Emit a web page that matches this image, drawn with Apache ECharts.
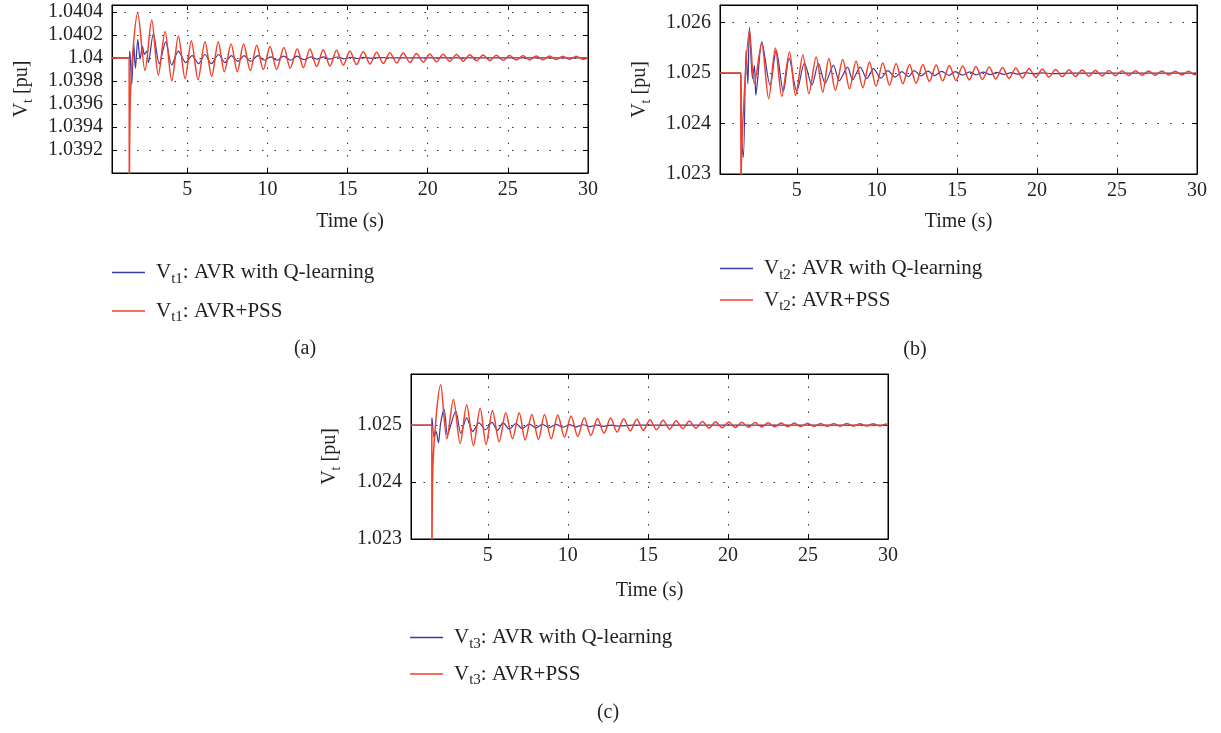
<!DOCTYPE html>
<html><head><meta charset="utf-8">
<script src="https://cdn.jsdelivr.net/npm/echarts@6/dist/echarts.min.js"></script>
<style>html,body{margin:0;padding:0;background:#fff}#c{width:1221px;height:733px}</style>
</head><body><div id="c"></div>
<script>
// ---------- tick labels ----------
const xTicks = [5, 10, 15, 20, 25, 30];
const yTicksA = [1.0392, 1.0394, 1.0396, 1.0398, 1.04, 1.0402, 1.0404];
const yTicksB = [1.023, 1.024, 1.025, 1.026];
const yTicksC = [1.023, 1.024, 1.025];

// ---------- panel (a): Vt1 ----------
const tA_q = [0.3,1.37,1.41,1.53,1.66,1.76,1.91,2.05,2.20,2.32,2.47,2.57,2.88,3.25,3.65,4.03,4.44,4.90,5.30,5.70,6.10,6.50,6.95,7.35,7.75,8.15,8.55,8.95,9.40,9.80,10.2,10.6,11.0,11.45,11.85,12.3,12.7,13.1,13.5,13.9,14.35,14.8,15.2,15.6,16.0,16.5,17.0,18.0,30];
const vA_q = [1.04,1.04,1.04006,1.03977,1.04012,1.03991,1.04016,1.03999,1.0401,1.04003,1.04006,1.03996,1.04021,1.03995,1.04014,1.03994,1.04006,1.03996,1.04002,1.03995,1.04003,1.03995,1.04003,1.03996,1.04002,1.03997,1.04002,1.03997,1.04002,1.03998,1.04001,1.03998,1.040015,1.03998,1.040015,1.039985,1.04001,1.03999,1.04001,1.03999,1.040008,1.039993,1.040006,1.039995,1.040004,1.039997,1.040003,1.04,1.04];
const tA_pss = [0.3,1.37,1.38,1.45,1.91,2.36,2.78,3.19,3.61,4.03,4.44,4.86,5.25,5.67,6.10,6.52,6.93,7.31,7.73,8.12,8.51,8.93,9.33,9.74,10.16,10.57,11.03,11.42,11.86,12.24,12.65,13.07,13.48,13.90,14.31,14.73,15.14,15.56,15.98,16.40,16.81,17.23,17.64,18.06,18.47,18.89,19.30,19.72,20.13,20.55,20.96,21.38,21.79,22.21,22.62,23.04,23.45,23.87,24.28,24.70,25.11,25.53,25.94,26.36,26.77,27.19,27.60,28.02,28.43,28.85,29.26,29.68,30];
const vA_pss = [1.04,1.04,1.0386,1.03968,1.04039,1.03989,1.04033,1.03985,1.04023,1.0398,1.04019,1.03982,1.04015,1.03981,1.04014,1.03984,1.04014,1.03988,1.04012,1.03988,1.04012,1.03989,1.04011,1.0399,1.0401,1.0399,1.04009,1.03991,1.04008,1.039915,1.040078,1.039925,1.040072,1.03993,1.040066,1.039937,1.04006,1.039942,1.040056,1.039947,1.04005,1.039952,1.040046,1.039956,1.040042,1.03996,1.040038,1.039964,1.040035,1.039967,1.040032,1.03997,1.04003,1.039972,1.040027,1.039975,1.040025,1.039977,1.040023,1.039979,1.040021,1.039981,1.040019,1.039983,1.040017,1.039984,1.040016,1.039986,1.040015,1.039987,1.040014,1.039988,1.04];

// ---------- panel (b): Vt2 ----------
const tB_q = [0.2,1.50,1.53,1.66,1.83,1.94,2.04,2.23,2.35,2.44,2.56,2.81,3.33,3.71,4.16,4.52,5.0,5.48,5.94,6.35,6.77,7.29,7.65,8.17,8.48,8.96,9.37,9.79,10.25,10.69,11.14,11.56,11.98,12.33,12.75,13.2,13.6,14.05,14.5,14.9,15.35,15.8,16.2,16.65,17.1,17.5,17.95,18.4,18.8,19.3,19.8,20.3,21.0,22.0,30];
const vB_q = [1.025,1.025,1.0238,1.02333,1.02545,1.02479,1.02591,1.02489,1.02515,1.02456,1.0249,1.02562,1.02476,1.02545,1.02464,1.02529,1.02464,1.0252,1.02476,1.02519,1.0248,1.025155,1.02485,1.02512,1.02487,1.02512,1.02489,1.02509,1.0249,1.02505,1.02492,1.02503,1.02493,1.02505,1.024945,1.02504,1.02495,1.025035,1.024955,1.02503,1.02496,1.025025,1.024965,1.02502,1.02497,1.025015,1.024975,1.02501,1.02498,1.025008,1.024985,1.025005,1.02499,1.025,1.025];
const tB_pss = [0.2,1.50,1.51,1.62,2.04,2.35,2.80,3.24,3.66,4.06,4.54,4.92,5.38,5.75,6.21,6.62,7.00,7.41,7.87,8.29,8.70,9.12,9.54,9.95,10.37,10.79,11.20,11.62,12.04,12.45,12.87,13.28,13.70,14.11,14.53,14.94,15.36,15.77,16.19,16.60,17.02,17.43,17.85,18.26,18.68,19.09,19.51,19.92,20.34,20.75,21.17,21.58,22.00,22.41,22.83,23.24,23.66,24.07,24.49,24.90,25.32,25.73,26.15,26.56,26.98,27.39,27.81,28.22,28.64,29.05,29.47,29.88,30];
const vB_pss = [1.025,1.025,1.0228,1.024,1.02585,1.02479,1.02558,1.02449,1.0255,1.02454,1.02542,1.02456,1.02536,1.02459,1.02532,1.02462,1.02529,1.02466,1.02527,1.02469,1.02524,1.02471,1.02522,1.02474,1.0252,1.02476,1.02519,1.02479,1.02517,1.0248,1.025172,1.024835,1.025162,1.024845,1.02515,1.024855,1.02514,1.024865,1.02513,1.024875,1.02512,1.024885,1.02511,1.024895,1.0251,1.024905,1.02509,1.024915,1.02508,1.024922,1.025072,1.024929,1.025066,1.024935,1.02506,1.02494,1.025056,1.024945,1.025052,1.02495,1.025048,1.024953,1.025045,1.024956,1.025042,1.024959,1.02504,1.024962,1.025037,1.024964,1.025035,1.024966,1.025];

// ---------- panel (c): Vt3 ----------
const tC_q = [0.2,1.50,1.51,1.64,1.77,1.91,2.06,2.27,2.48,2.64,3.0,3.31,3.68,4.06,4.45,4.85,5.25,5.6,5.95,6.35,6.75,7.15,7.6,8.0,8.4,8.85,9.25,9.7,10.1,10.5,10.95,11.4,11.8,12.2,12.7,13.2,14.0,30];
const vC_q = [1.025,1.025,1.02513,1.02479,1.02489,1.02469,1.02505,1.02528,1.02482,1.02496,1.02525,1.02486,1.02513,1.02489,1.02504,1.02492,1.02505,1.02491,1.02504,1.02493,1.02503,1.02494,1.02502,1.02495,1.025015,1.02496,1.025015,1.024965,1.02501,1.02497,1.025008,1.024975,1.025005,1.02498,1.025003,1.024985,1.025,1.025];
const tC_pss = [0.2,1.50,1.51,1.56,2.06,2.44,2.85,3.27,3.68,4.10,4.52,4.89,5.29,5.71,6.12,6.54,6.96,7.33,7.75,8.16,8.54,8.96,9.37,9.79,10.2,10.62,11.02,11.44,11.85,12.26,12.67,13.08,13.49,13.90,14.31,14.72,15.13,15.54,15.95,16.36,16.77,17.18,17.59,18.00,18.41,18.82,19.23,19.64,20.05,20.46,20.87,21.28,21.69,22.10,22.51,22.92,23.33,23.74,24.15,24.56,24.97,25.38,25.79,26.20,26.61,27.02,27.43,27.84,28.25,28.66,29.07,29.48,29.89,30];
const vC_pss = [1.025,1.025,1.0225,1.02421,1.02571,1.02476,1.02545,1.02468,1.02536,1.02464,1.0253,1.02466,1.02526,1.02471,1.02522,1.02476,1.02522,1.02474,1.02519,1.02475,1.02519,1.02476,1.02518,1.02479,1.02516,1.0248,1.02513,1.02482,1.02512,1.02486,1.025125,1.02488,1.025115,1.0249,1.025105,1.02491,1.025095,1.02492,1.025088,1.02493,1.02508,1.024938,1.025072,1.024945,1.025066,1.02495,1.02506,1.024955,1.025056,1.02496,1.025051,1.024964,1.025047,1.024968,1.025043,1.024971,1.02504,1.024974,1.025037,1.024976,1.025034,1.024978,1.025032,1.02498,1.02503,1.024981,1.025028,1.024983,1.025026,1.024984,1.025024,1.024986,1.025022,1.025];

// ---------- legend texts ----------
const legendQ = ': AVR with Q-learning';
const legendP = ': AVR+PSS';
const subs = ['t1', 't2', 't3'];
const captions = ['(a)', '(b)', '(c)'];

// ---------- layout / style ----------
const FONT = 'Liberation Serif';
const TXT = '#231f20';
const BLUE = '#3b3a9e';
const RED = '#f2402a';

const panels = [
  {grid: {left: 112, top: 5, width: 476, height: 168}, xMin: 0.3, yMin: 1.039, yMax: 1.04046, yTicks: yTicksA, dec: 4,
   q: [tA_q, vA_q], p: [tA_pss, vA_pss], yGap: 77, xGap: 39,
   legend: {left: 112, top: 262, itemGap: 14}, cap: [305, 349]},
  {grid: {left: 720, top: 5, width: 477, height: 169}, xMin: 0.2, yMin: 1.023, yMax: 1.02635, yTicks: yTicksB, dec: 3,
   q: [tB_q, vB_q], p: [tB_pss, vB_pss], yGap: 67, xGap: 38,
   legend: {left: 720, top: 258, itemGap: 7}, cap: [915, 350]},
  {grid: {left: 411, top: 374, width: 477, height: 165}, xMin: 0.2, yMin: 1.023, yMax: 1.0259, yTicks: yTicksC, dec: 3,
   q: [tC_q, vC_q], p: [tC_pss, vC_pss], yGap: 68, xGap: 42,
   legend: {left: 410, top: 627, itemGap: 12}, cap: [608, 713]}
];

const rich = {
  n: {fontFamily: FONT, fontSize: 20, color: TXT},
  s: {fontFamily: FONT, fontSize: 14, color: TXT, padding: [13, 0, 0, 0]}
};
const richL = {
  n: {fontFamily: FONT, fontSize: 21, color: TXT},
  s: {fontFamily: FONT, fontSize: 15, color: TXT, padding: [13, 0, 0, 0]}
};
const dotted = {type: [1.5, 11], color: '#333', width: 1};

const option = {animation: false, backgroundColor: '#fff', grid: [], xAxis: [], yAxis: [], series: [], legend: [], graphic: []};
const nameMap = {};

panels.forEach((P, i) => {
  option.grid.push(Object.assign({show: true, borderColor: '#000', borderWidth: 1, containLabel: false}, P.grid));
  const tickStyle = {color: '#000', width: 1};
  option.xAxis.push({
    gridIndex: i, type: 'value', min: P.xMin, max: 30, position: 'bottom',
    axisLine: {show: true, onZero: false, lineStyle: {color: '#000'}},
    axisTick: {show: true, inside: true, length: 5, customValues: xTicks, lineStyle: tickStyle},
    axisLabel: {customValues: xTicks, fontFamily: FONT, fontSize: 20, color: TXT, margin: 7},
    splitLine: {show: true, lineStyle: dotted},
    name: 'Time (s)', nameLocation: 'middle', nameGap: P.xGap,
    nameTextStyle: {fontFamily: FONT, fontSize: 20, color: TXT}
  });
  option.xAxis.push({
    gridIndex: i, type: 'value', min: P.xMin, max: 30, position: 'top',
    axisLine: {show: true, onZero: false, lineStyle: {color: '#000'}},
    axisTick: {show: true, inside: true, length: 5, customValues: xTicks, lineStyle: tickStyle},
    axisLabel: {show: false}, splitLine: {show: false}
  });
  const fmt = v => String(+(+v).toFixed(P.dec));
  option.yAxis.push({
    gridIndex: i, type: 'value', min: P.yMin, max: P.yMax, position: 'left',
    axisLine: {show: true, onZero: false, lineStyle: {color: '#000'}},
    axisTick: {show: true, inside: true, length: 5, customValues: P.yTicks, lineStyle: tickStyle},
    axisLabel: {customValues: P.yTicks, fontFamily: FONT, fontSize: 20, color: TXT, margin: 9, formatter: fmt},
    splitLine: {show: true, lineStyle: dotted},
    name: '{n|V}{s|t}{n| [pu]}', nameLocation: 'middle', nameGap: P.yGap, nameRotate: 90,
    nameTextStyle: {fontFamily: FONT, fontSize: 20, color: TXT, rich: rich}
  });
  option.yAxis.push({
    gridIndex: i, type: 'value', min: P.yMin, max: P.yMax, position: 'right',
    axisLine: {show: true, onZero: false, lineStyle: {color: '#000'}},
    axisTick: {show: true, inside: true, length: 5, customValues: P.yTicks, lineStyle: tickStyle},
    axisLabel: {show: false}, splitLine: {show: false}
  });
  const nq = 'V' + subs[i] + legendQ, np = 'V' + subs[i] + legendP;
  nameMap[nq] = '{n|V}{s|' + subs[i] + '}{n|' + legendQ + '}';
  nameMap[np] = '{n|V}{s|' + subs[i] + '}{n|' + legendP + '}';
  const zip = (t, v) => t.map((x, k) => [x, v[k]]);
  option.series.push({
    name: nq, type: 'line', xAxisIndex: 2 * i, yAxisIndex: 2 * i, data: zip(P.q[0], P.q[1]),
    showSymbol: false, smooth: 0.3, clip: true, color: BLUE, lineStyle: {color: BLUE, width: 1.2}, z: 3
  });
  option.series.push({
    name: np, type: 'line', xAxisIndex: 2 * i, yAxisIndex: 2 * i, data: zip(P.p[0], P.p[1]),
    showSymbol: false, smooth: 0.3, clip: true, color: RED, lineStyle: {color: RED, width: 1.5}, z: 4
  });
  option.legend.push({
    data: [nq, np], orient: 'vertical', left: P.legend.left, top: P.legend.top, itemGap: P.legend.itemGap,
    icon: 'rect', itemWidth: 33, itemHeight: 1.5, selectedMode: false, padding: 0,
    formatter: name => nameMap[name],
    textStyle: {fontFamily: FONT, fontSize: 21, color: TXT, rich: richL, padding: [0, 0, 0, 6]}
  });
  option.graphic.push({
    type: 'text', x: P.cap[0], y: P.cap[1],
    style: {text: captions[i], font: '20px "Liberation Serif"', fill: TXT, align: 'center', verticalAlign: 'middle', textAlign: 'center', textVerticalAlign: 'middle'}
  });
});

const chart = echarts.init(document.getElementById('c'), null, {renderer: 'canvas'});
chart.setOption(option);
</script></body></html>
